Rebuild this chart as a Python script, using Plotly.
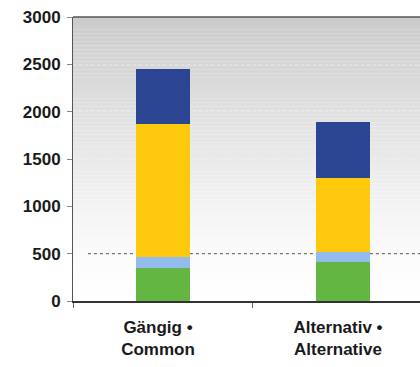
import plotly.graph_objects as go

categories = ["Gängig •<br>Common", "Alternativ •<br>Alternative"]
green_vals = [350, 410]
lightblue_vals = [115, 105]
yellow_vals = [1405, 785]
darkblue_vals = [580, 590]
y_ticks = [0, 500, 1000, 1500, 2000, 2500, 3000]
ref_line = 500

fig = go.Figure()
for vals, col in [(green_vals, "#63b642"), (lightblue_vals, "#94bbee"),
                  (yellow_vals, "#fec80c"), (darkblue_vals, "#2c4593")]:
    fig.add_trace(go.Bar(x=categories, y=vals, marker=dict(color=col, line=dict(width=0)),
                         width=0.305, showlegend=False))

# gradient background bands
shapes = []
n = 70
for i in range(n):
    t = i / (n - 1)  # 0 bottom -> 1 top
    g = int(round(255 - 52 * (t ** 1.3)))
    shapes.append(dict(type="rect", xref="paper", yref="paper", x0=0, x1=1,
                       y0=i / n, y1=(i + 1) / n, fillcolor=f"rgb({g},{g},{g})",
                       line=dict(width=0), layer="below"))
for yv in [1000, 1500, 2000, 2500]:
    shapes.append(dict(type="line", xref="paper", yref="y", x0=0, x1=1, y0=yv, y1=yv,
                       line=dict(color="rgba(255,255,255,0.35)", width=1, dash="dot"), layer="below"))
shapes.append(dict(type="line", xref="paper", yref="y", x0=0.043, x1=1, y0=ref_line, y1=ref_line,
                   line=dict(color="#555", width=1, dash="dot"), layer="below"))
shapes.append(dict(type="line", xref="paper", yref="paper", x0=0, x1=1, y0=1, y1=1,
                   line=dict(color="#555", width=1.5)))

fig.update_layout(
    width=420, height=367,
    margin=dict(l=73, r=0, t=17, b=66),
    barmode="stack",
    paper_bgcolor="white", plot_bgcolor="rgba(0,0,0,0)",
    shapes=shapes,
    font=dict(family="Liberation Sans, Arial", size=16, color="#1a1a1a"),
    xaxis=dict(range=[-0.5, 1.428], showline=True, linecolor="#333", linewidth=1.5,
               ticks="outside", tickson="boundaries", ticklen=5, tickcolor="#666",
               showgrid=False, tickfont=dict(size=17, weight="bold"),
               ticklabelstandoff=10, ticklabelshift=-5),
    yaxis=dict(range=[0, 3000], tickvals=y_ticks, showline=True, linecolor="#555",
               linewidth=1, ticks="outside", ticklen=5, tickcolor="#888",
               showgrid=False, zeroline=False, tickfont=dict(size=17, weight="bold"),
               ticklabelstandoff=3),
)

fig.write_html("out.html", config={"displayModeBar": False},
               post_script="document.body.style.margin='0';document.body.style.overflow='hidden';")
